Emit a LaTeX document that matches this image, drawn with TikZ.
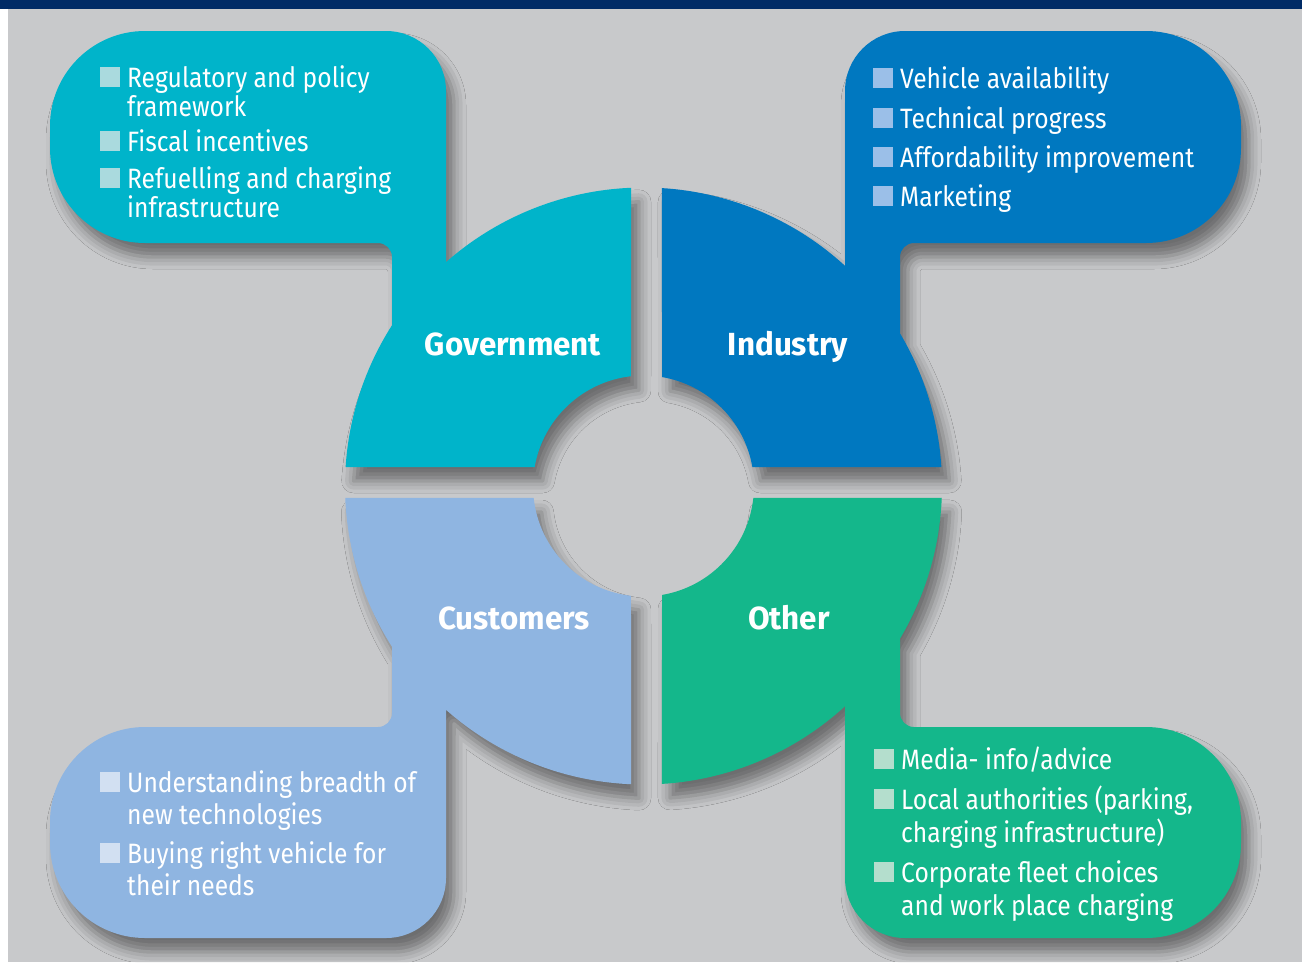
\documentclass[tikz,border=0pt]{standalone}
\usepackage{fontspec}
\setmainfont{Fira Sans}[FakeStretch=0.88]
\newfontfamily\labelFont{Fira Sans}[FakeStretch=0.98]
\usetikzlibrary{shadows.blur}
\definecolor{barColor}{RGB}{0,43,102}
\definecolor{backColor}{RGB}{200,201,203}
\definecolor{govColor}{RGB}{0,180,202}
\definecolor{indColor}{RGB}{0,120,192}
\definecolor{custColor}{RGB}{143,181,225}
\definecolor{otherColor}{RGB}{20,183,139}
\definecolor{govBullet}{RGB}{170,218,222}
\definecolor{indBullet}{RGB}{155,191,232}
\definecolor{custBullet}{RGB}{210,224,242}
\definecolor{otherBullet}{RGB}{180,222,205}
\tikzstyle{pixels} = [x = 1pt, y = -1pt]
\tikzstyle{ringPart} = [blur shadow={shadow xshift=8pt, shadow yshift=-14pt, shadow blur radius=12pt, shadow opacity=45}]
\tikzstyle{itemText} = [anchor=base west, inner sep=0pt, text=white, font=\fontsize{28}{32}\selectfont]
\tikzstyle{govText} = [itemText, font=\fontsize{28}{27}\selectfont]
\tikzstyle{otherText} = [itemText, font=\fontsize{28}{33}\selectfont]
\tikzstyle{ringLabel} = [anchor=base, inner sep=0pt, text=white, font=\labelFont\bfseries\fontsize{32}{36}\selectfont]
\newcommand{\ringX}{643.5}
\newcommand{\ringY}{486}
\newcommand{\outerR}{298.5}
\newcommand{\innerR}{110.5}
\newcommand{\onRing}[2]{([shift={(\ringX,\ringY)}]#1:#2)}
\newcommand{\outerArc}[2]{arc[start angle=#1, end angle=#2, radius=\outerR]}
\newcommand{\innerArc}[2]{arc[start angle=#1, end angle=#2, radius=\innerR]}
\newcommand{\bulletItem}[5]{
  \node[#2] (#1) at (#4) {\begin{tabular}[t]{@{}l@{}}#5\end{tabular}};
  \fill[#3] ([xshift=-27pt]#1.base west) rectangle +(20pt,20pt);
}

\begin{document}
\begin{tikzpicture}[pixels]
  \useasboundingbox (0,0) rectangle (1302,962);
  \fill[white] (0,0) rectangle (1302,962);
  \fill[backColor] (8,9) rectangle (1302,962);
  \fill[barColor] (0,0) rectangle (1302,9);

  % government
  \fill[ringPart, fill=govColor] (50,126) arc[start angle=180, end angle=270, radius=95]
    -- (386,31) arc[start angle=270, end angle=360, radius=60]
    -- \onRing{-131.42}{\outerR} \outerArc{-131.42}{-92.40}
    -- \onRing{-96.50}{\innerR} \innerArc{-96.50}{-170.10}
    -- \onRing{-176.35}{\outerR} \outerArc{-176.35}{-147.40}
    -- (392,257) arc[start angle=0, end angle=-90, radius=14]
    -- (145,243) arc[start angle=90, end angle=180, radius=95]
    -- cycle;

  % industry
  \fill[ringPart, fill=indColor] (845,91) arc[start angle=180, end angle=270, radius=60]
    -- (1146,31) arc[start angle=270, end angle=360, radius=95]
    -- (1241,148) arc[start angle=0, end angle=90, radius=95]
    -- (914,243) arc[start angle=270, end angle=180, radius=14]
    -- \onRing{-30.76}{\outerR} \outerArc{-30.76}{-3.65}
    -- \onRing{-9.90}{\innerR} \innerArc{-9.90}{-80.36}
    -- \onRing{-86.45}{\outerR} \outerArc{-86.45}{-47.54}
    -- cycle;

  % customers
  \fill[ringPart, fill=custColor] (50,822) arc[start angle=180, end angle=270, radius=95]
    -- (378,727) arc[start angle=90, end angle=0, radius=14]
    -- \onRing{147.40}{\outerR} \outerArc{147.40}{177.70}
    -- \onRing{173.77}{\innerR} \innerArc{173.77}{96.50}
    -- \onRing{92.40}{\outerR} \outerArc{92.40}{131.42}
    -- (446,878) arc[start angle=0, end angle=90, radius=60]
    -- (145,938) arc[start angle=90, end angle=180, radius=95]
    -- cycle;

  % other
  \fill[ringPart, fill=otherColor] \onRing{80.36}{\innerR} \innerArc{80.36}{6.23}
    -- \onRing{2.30}{\outerR} \outerArc{2.30}{30.76}
    -- (900,713) arc[start angle=180, end angle=90, radius=14]
    -- (1146,727) arc[start angle=270, end angle=360, radius=95]
    -- (1241,843) arc[start angle=0, end angle=90, radius=95]
    -- (905,938) arc[start angle=90, end angle=180, radius=60]
    -- \onRing{47.54}{\outerR} \outerArc{47.54}{86.45}
    -- cycle;

  \node[ringLabel] (govLabel) at (513,355) {Government};
  \node[ringLabel] (indLabel) at (788,355) {Industry};
  \node[ringLabel] (custLabel) at (514,629) {Customers};
  \node[ringLabel] (otherLabel) at (789,629) {Other};

  \bulletItem{govA}{govText}{govBullet}{127,87}{Regulatory and policy\\framework}
  \bulletItem{govB}{govText}{govBullet}{127,151}{Fiscal incentives}
  \bulletItem{govC}{govText}{govBullet}{127,188}{Refuelling and charging\\infrastructure}

  \bulletItem{indA}{itemText}{indBullet}{900,88}{Vehicle availability}
  \bulletItem{indB}{itemText}{indBullet}{900,128}{Technical progress}
  \bulletItem{indC}{itemText}{indBullet}{900,167}{Affordability improvement}
  \bulletItem{indD}{itemText}{indBullet}{900,206}{Marketing}

  \bulletItem{custA}{itemText}{custBullet}{127,792}{Understanding breadth of\\new technologies}
  \bulletItem{custB}{itemText}{custBullet}{127,863}{Buying right vehicle for\\their needs}

  \bulletItem{otherA}{otherText}{otherBullet}{901,769}{Media- info/advice}
  \bulletItem{otherB}{otherText}{otherBullet}{901,809}{Local authorities (parking,\\charging infrastructure)}
  \bulletItem{otherC}{otherText}{otherBullet}{901,882}{Corporate fleet choices\\and work place charging}
\end{tikzpicture}
\end{document}
